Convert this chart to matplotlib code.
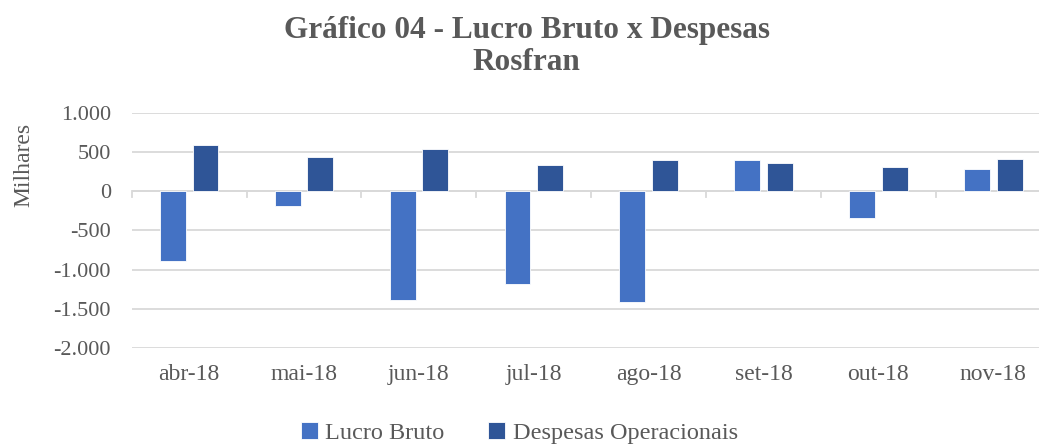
import numpy as np
import matplotlib
matplotlib.use("Agg")
import matplotlib.pyplot as plt

meses = ["abr-18", "mai-18", "jun-18", "jul-18", "ago-18", "set-18", "out-18", "nov-18"]
lucro_bruto = [-890, -190, -1395, -1180, -1415, 405, -340, 290]
despesas_op = [590, 445, 548, 335, 398, 360, 308, 418]
y_ticks = [1000, 500, 0, -500, -1000, -1500, -2000]
y_labels = ["1.000", "500", "0", "-500", "-1.000", "-1.500", "-2.000"]

cor_lucro = "#4472C4"
cor_desp = "#2F5597"
cinza = "#595959"
grade = "#D9D9D9"

plt.rcParams["font.family"] = ["Liberation Serif", "DejaVu Serif"]

fig = plt.figure(figsize=(10.39, 4.45), dpi=100)
ax = fig.add_axes([0.1268, 0.2187, 0.8845, 0.5267])

x = np.arange(len(meses))
larg = 0.225
ax.bar(x - 0.142, lucro_bruto, larg, color=cor_lucro, edgecolor="white", linewidth=0.6,
       label="Lucro Bruto", zorder=3)
ax.bar(x + 0.142, despesas_op, larg, color=cor_desp, edgecolor="white", linewidth=0.6,
       label="Despesas Operacionais", zorder=3)

ax.set_xlim(-0.5, len(meses) - 0.5)
ax.set_ylim(-2000, 1000)
ax.set_yticks(y_ticks)
ax.set_yticklabels(y_labels)
ax.yaxis.grid(True, color=grade, linewidth=1.3, zorder=0)
ax.tick_params(axis="y", length=0, labelsize=16, labelcolor=cinza, pad=15)

# rótulos das categorias embaixo, marcas nas divisões sobre a linha zero
ax.set_xticks(x)
ax.set_xticklabels(meses)
ax.tick_params(axis="x", length=0, labelsize=17, labelcolor=cinza, pad=12)
for s in ["top", "right", "left", "bottom"]:
    ax.spines[s].set_visible(False)
ax.axhline(0, color=grade, linewidth=1.3, zorder=1)
for b in np.arange(len(meses) + 1) - 0.5:
    ax.plot([b, b], [0, -75], color=grade, linewidth=1.3, zorder=1, clip_on=False)

ax.set_ylabel("Milhares", fontsize=17, color=cinza)
ax.yaxis.set_label_coords(-0.106, 0.78)

fig.text(0.507, 0.932, "Gráfico 04 - Lucro Bruto x Despesas", ha="center", va="center",
         fontsize=22.5, fontweight="bold", color=cinza)
fig.text(0.507, 0.86, "Rosfran", ha="center", va="center",
         fontsize=22.5, fontweight="bold", color=cinza)

fig.legend(loc="center", bbox_to_anchor=(0.50, 0.027), ncol=2, frameon=False,
           fontsize=17.5, labelcolor=cinza, handlelength=0.7, handleheight=0.7,
           handletextpad=0.3, columnspacing=1.8)

fig.savefig("out.png", dpi=100)
